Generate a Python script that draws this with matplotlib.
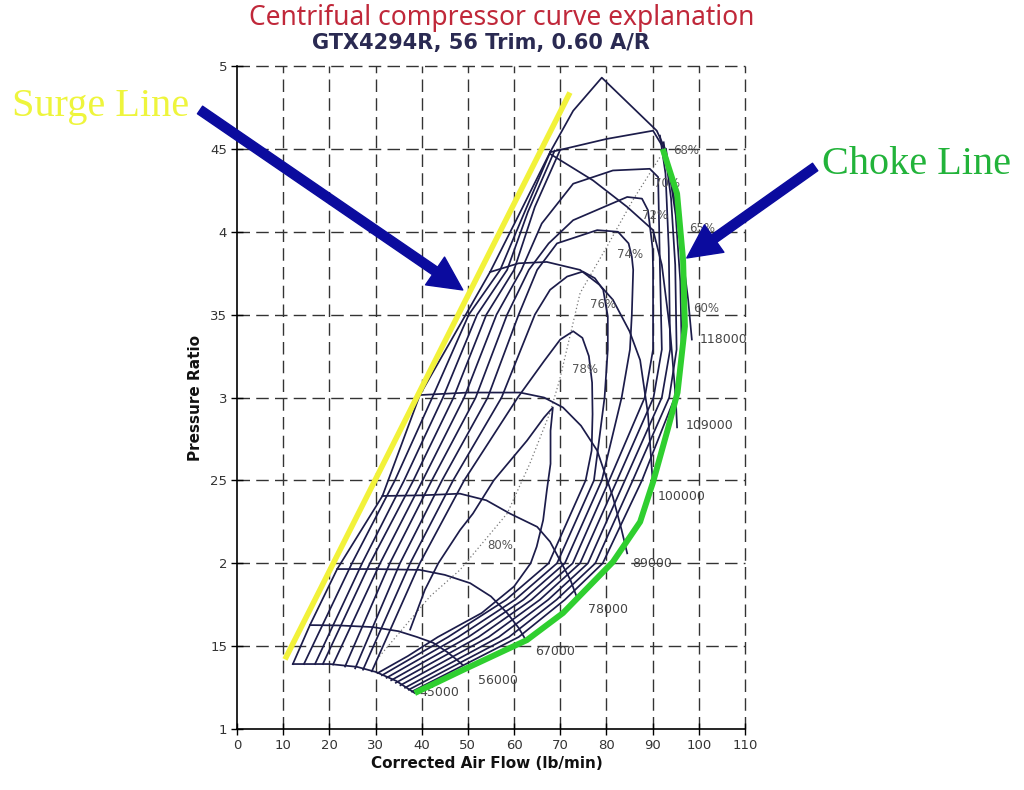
import numpy as np
import matplotlib.pyplot as plt

# axis ticks
x_ticks = [0, 10, 20, 30, 40, 50, 60, 70, 80, 90, 100, 110]
y_ticks = [1, 1.5, 2, 2.5, 3, 3.5, 4, 4.5, 5]
y_tick_labels = ["1", "15", "2", "25", "3", "35", "4", "45", "5"]

# constant speed lines (lb/min, pressure ratio)
speed_45000 = [(12.1, 1.392), (20.1, 1.392), (26.0, 1.375), (30.1, 1.344), (34.5, 1.29), (38.5, 1.217)]
speed_56000 = [(15.8, 1.627), (22.0, 1.625), (29.4, 1.615), (35.0, 1.59), (39.0, 1.555), (42.5, 1.52),
               (45.5, 1.465), (47.5, 1.42), (48.9, 1.386)]
speed_67000 = [(21.7, 1.965), (30.0, 1.965), (39.6, 1.96), (45.0, 1.93), (50.5, 1.88), (55.0, 1.80),
               (58.5, 1.70), (61.0, 1.61), (62.8, 1.525)]
speed_78000 = [(31.5, 2.406), (40.0, 2.41), (48.3, 2.42), (54.0, 2.38), (59.1, 2.30), (65.0, 2.22),
               (67.8, 2.13), (69.9, 2.02), (72.2, 1.90), (73.8, 1.78)]
speed_89000 = [(39.6, 3.015), (50.0, 3.03), (61.3, 3.03), (66.5, 3.0), (70.6, 2.94), (74.5, 2.83),
               (78.0, 2.68), (81.4, 2.40), (83.3, 2.20), (84.5, 2.06)]
speed_100000 = [(54.8, 3.757), (61.0, 3.81), (67.1, 3.818), (74.3, 3.77), (78.5, 3.68), (81.4, 3.59),
                (85.0, 3.40), (87.3, 3.226), (89.0, 2.90), (90.1, 2.46)]
speed_109000 = [(67.8, 4.47), (77.1, 4.31), (84.5, 4.15), (90.1, 4.01), (92.0, 3.80), (93.8, 3.40),
                (95.0, 3.00), (95.3, 2.82)]
speed_118000 = [(67.8, 4.48), (80.0, 4.56), (90.1, 4.61), (92.7, 4.49), (94.8, 4.19), (96.6, 3.83),
                (97.7, 3.59), (98.5, 3.35)]
speed_lines = [speed_45000, speed_56000, speed_67000, speed_78000,
               speed_89000, speed_100000, speed_109000, speed_118000]
speed_names = ["45000", "56000", "67000", "78000", "89000", "100000", "109000", "118000"]
speed_label_xy = [(39.6, 1.223), (52.2, 1.29), (64.5, 1.465), (76.0, 1.72),
                  (85.5, 2.00), (91.2, 2.40), (97.2, 2.83), (100.3, 3.35)]

# outer map boundary (surge side and top)
boundary = [(12.1, 1.392), (15.8, 1.627), (21.7, 1.965), (31.5, 2.406), (39.6, 3.015), (47.5, 3.40),
            (54.8, 3.757), (61.0, 4.10), (67.8, 4.48), (72.8, 4.73), (79.0, 4.93), (90.9, 4.61),
            (92.7, 4.50)]

# efficiency islands (nan splits an island clipped by the top speed line)
nan = (np.nan, np.nan)
eff_60 = [(14.5, 1.392), (24.9, 2.0), (34.2, 2.5), (42.3, 3.0), (50.2, 3.5), (57.0, 3.77), (62.0, 4.1),
          (67.9, 4.485), nan,
          (92.9, 4.50), (95.0, 4.1), (96.0, 3.7), (96.3, 3.29), (94.8, 3.0), (87.7, 2.5), (79.2, 2.0),
          (71.0, 1.78), (61.0, 1.555), (37.9, 1.226)]
eff_65 = [(16.9, 1.392), (27.1, 2.0), (36.2, 2.5), (44.6, 3.0), (52.0, 3.5), (58.5, 3.77), (63.0, 4.12),
          (68.8, 4.49), nan,
          (92.4, 4.54), (94.0, 4.2), (94.9, 3.8), (95.2, 3.29), (93.6, 3.0), (85.7, 2.5), (77.6, 2.0),
          (69.2, 1.78), (58.9, 1.555), (37.2, 1.237)]
eff_68 = [(18.6, 1.392), (28.8, 2.0), (38.2, 2.5), (46.9, 3.0), (54.0, 3.5), (60.0, 3.77), (64.5, 4.15),
          (70.0, 4.495), nan,
          (91.6, 4.58), (92.8, 4.35), (93.5, 3.9), (93.8, 3.29), (92.0, 3.0), (84.0, 2.5), (76.0, 2.0),
          (67.4, 1.78), (56.7, 1.555), (36.4, 1.249)]
eff_70 = [(20.8, 1.389), (31.0, 2.0), (40.2, 2.5), (49.2, 3.0), (56.2, 3.5), (61.6, 3.77), (66.0, 4.05),
          (72.8, 4.29), (81.4, 4.37), (89.4, 4.38), (91.2, 4.33), (91.6, 3.77), (92.0, 3.29), (90.2, 3.0),
          (82.3, 2.5), (74.3, 2.0), (65.6, 1.78), (54.5, 1.555), (35.4, 1.264)]
eff_72 = [(23.4, 1.377), (33.1, 2.0), (42.2, 2.5), (51.7, 3.0), (58.5, 3.5), (63.2, 3.77), (67.5, 3.93),
          (72.8, 4.07), (84.5, 4.21), (87.7, 4.20), (89.0, 4.13), (90.0, 3.9), (90.1, 3.77), (90.1, 3.29),
          (88.3, 3.0), (80.6, 2.5), (72.7, 2.0), (63.8, 1.78), (52.3, 1.555), (34.4, 1.279)]
eff_74 = [(25.6, 1.366), (35.3, 2.0), (44.4, 2.5), (54.3, 3.0), (61.0, 3.5), (65.0, 3.77), (69.3, 3.93),
          (78.0, 4.01), (82.5, 4.00), (84.8, 3.93), (85.5, 3.85), (85.8, 3.77), (85.5, 3.5), (85.1, 3.29),
          (83.3, 3.0), (79.0, 2.5), (71.0, 2.0), (62.0, 1.78), (50.1, 1.555), (33.4, 1.294)]
eff_76 = [(27.3, 1.358), (37.5, 2.0), (46.8, 2.5), (57.3, 3.0), (64.5, 3.5), (67.8, 3.65), (71.5, 3.73),
          (74.9, 3.76), (77.5, 3.72), (79.3, 3.65), (80.3, 3.49), (80.3, 3.29), (79.6, 3.0), (77.3, 2.5),
          (69.3, 2.0), (60.2, 1.78), (47.9, 1.555), (32.4, 1.309)]
eff_78 = [(29.2, 1.348), (39.6, 2.0), (49.2, 2.5), (60.8, 3.0), (66.5, 3.22), (70.0, 3.35), (72.8, 3.40),
          (74.8, 3.36), (76.2, 3.25), (76.9, 3.09), (77.0, 2.9), (76.8, 2.68), (75.5, 2.5), (67.5, 2.0),
          (58.3, 1.78), (45.7, 1.555), (31.4, 1.324)]
eff_80 = [(37.5, 1.60), (40.7, 1.84), (43.6, 2.0), (48.3, 2.20), (51.1, 2.30), (55.6, 2.5), (62.8, 2.74),
          (66.5, 2.88), (68.4, 2.94), (67.9, 2.80), (67.9, 2.60), (67.1, 2.44), (66.3, 2.26), (64.9, 2.10),
          (63.6, 2.0), (60.0, 1.86), (53.0, 1.70), (43.5, 1.555), (37.0, 1.44), (30.5, 1.338)]
islands = [eff_60, eff_65, eff_68, eff_70, eff_72, eff_74, eff_76, eff_78, eff_80]

eff_names = ["80%", "78%", "76%", "74%", "72%", "70%", "68%", "65%", "60%"]
eff_label_xy = [(57.0, 2.11), (75.4, 3.17), (79.3, 3.56), (85.1, 3.86), (90.5, 4.10),
                (93.1, 4.29), (97.2, 4.49), (100.7, 4.02), (101.6, 3.54)]

# peak efficiency ridge (dotted)
ridge = [(30.3, 1.42), (41.8, 1.80), (48.3, 1.96), (58.5, 2.30), (63.4, 2.60), (67.8, 2.91),
         (69.9, 3.11), (74.3, 3.63), (80.1, 3.91), (85.7, 4.19), (91.6, 4.45)]

# hand-drawn annotations
surge_line = [(10.4, 1.42), (72.1, 4.84)]
choke_line = [(38.5, 1.217), (48.9, 1.356), (62.8, 1.537), (70.6, 1.70), (81.4, 2.008), (87.3, 2.25),
              (90.1, 2.49), (93.2, 2.80), (95.4, 3.03), (97.0, 3.43), (96.6, 3.83), (95.3, 4.23),
              (92.2, 4.50)]
surge_arrow = [(-8.0, 4.735), (48.9, 3.649)]
choke_arrow = [(125.2, 4.391), (97.4, 3.842)]

MAP = "#1c1c4a"

fig = plt.figure(figsize=(10.24, 7.9), dpi=100)
ax = fig.add_axes([0.2314, 0.0772, 0.4961, 0.8392])
ax.set_xlim(0, 110)
ax.set_ylim(1, 5)

# dashed grid, including the top and right frame
for xv in x_ticks[1:]:
    ax.axvline(xv, color="#333333", lw=1.0, ls=(0, (9, 4.5)), zorder=1, clip_on=False)
for yv in y_ticks[1:]:
    ax.axhline(yv, color="#333333", lw=1.0, ls=(0, (9, 4.5)), zorder=1, clip_on=False)
ax.spines["top"].set_visible(False)
ax.spines["right"].set_visible(False)
ax.spines["left"].set_linewidth(1.2)
ax.spines["bottom"].set_linewidth(1.2)

ax.set_xticks(x_ticks)
ax.set_yticks(y_ticks)
ax.set_yticklabels(y_tick_labels)
ax.tick_params(direction="inout", length=8, width=1.0, labelsize=9.5, labelcolor="#333333", pad=3)

# map lines
for pts in islands + [boundary]:
    a = np.array(pts)
    ax.plot(a[:, 0], a[:, 1], color=MAP, lw=1.25, zorder=3)
for pts in speed_lines:
    a = np.array(pts)
    ax.plot(a[:, 0], a[:, 1], color=MAP, lw=1.25, zorder=3)
r = np.array(ridge)
ax.plot(r[:, 0], r[:, 1], color="#777777", lw=0.9, ls=(0, (1, 2)), zorder=2)

for name, (tx, ty) in zip(speed_names, speed_label_xy):
    ax.text(tx, ty, name, fontsize=9, color="#444444", va="center", ha="left", clip_on=False, zorder=4)
for name, (tx, ty) in zip(eff_names, eff_label_xy):
    ax.text(tx, ty, name, fontsize=8.5, color="#555555", va="center", ha="center", clip_on=False, zorder=4)

# surge / choke overlays
s = np.array(surge_line)
ax.plot(s[:, 0], s[:, 1], color="#f2f23a", lw=4, solid_capstyle="butt", zorder=5, clip_on=False)
c = np.array(choke_line)
ax.plot(c[:, 0], c[:, 1], color="#2fcf2f", lw=4.3, solid_capstyle="butt", zorder=5, clip_on=False)

arrow_style = "simple,head_length=1.1,head_width=1.1,tail_width=0.3"
for tail, head in [surge_arrow, choke_arrow]:
    ax.annotate("", xy=head, xytext=tail, annotation_clip=False, zorder=6,
                arrowprops=dict(arrowstyle=arrow_style, color="#0b0b9e", mutation_scale=22,
                                shrinkA=0, shrinkB=0))

ax.text(-48.7, 4.753, "Surge Line", family="Liberation Serif", fontsize=29, color="#eef53c",
        va="center", ha="left", clip_on=False)
ax.text(126.7, 4.403, "Choke Line", family="Liberation Serif", fontsize=29, color="#22b33a",
        va="center", ha="left", clip_on=False)

ax.set_xlabel("Corrected Air Flow (lb/min)", fontsize=11, fontweight="bold", color="#111111")
ax.set_ylabel("Pressure Ratio", fontsize=11, fontweight="bold", color="#111111")
ax.xaxis.set_label_coords(0.492, -0.0525)
ax.xaxis.label.set_va("center")
ax.yaxis.set_label_coords(-0.0807, 0.5)
ax.yaxis.label.set_va("center")

fig.text(0.490, 0.977, "Centrifual compressor curve explanation", family="Noto Sans",
         fontsize=19, color="#c0283a", ha="center", va="center")
fig.text(0.470, 0.9456, "GTX4294R, 56 Trim, 0.60 A/R", fontsize=15, fontweight="bold",
         color="#2a2a52", ha="center", va="center")

fig.savefig("out.png", dpi=100)
